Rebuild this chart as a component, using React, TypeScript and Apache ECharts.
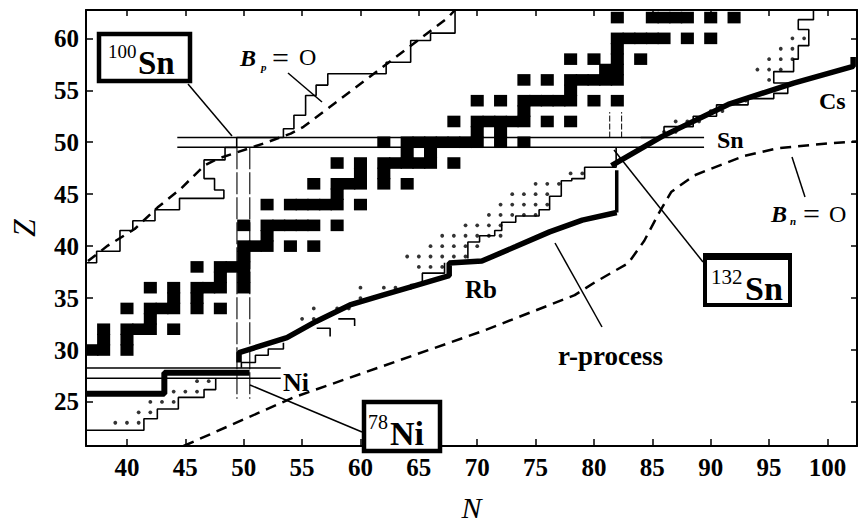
import React, { useEffect, useRef } from "react";
import * as echarts from "echarts";

const N_MIN = 36.49;
const N_MAX = 102.53;
const Z_MIN = 20.76;
const Z_MAX = 62.73;
const nTicks = [40, 45, 50, 55, 60, 65, 70, 75, 80, 85, 90, 95, 100];
const zTicks = [25, 30, 35, 40, 45, 50, 55, 60];

// stable nuclei: proton number and its stable neutron numbers
const stableZ = [28, 29, 30, 31, 32, 33, 34, 35, 36, 37, 38, 39, 40, 41, 42, 44, 45, 46, 47, 48, 49, 50, 51, 52, 53, 54, 55, 56, 57, 58, 59, 60, 62];
const stableN = [
  [36], [36], [36, 37, 38, 40], [38, 40], [38, 40, 41, 42, 44], [42],
  [40, 42, 43, 44, 46, 48], [44, 46], [42, 44, 46, 47, 48, 50], [48, 50],
  [46, 48, 49, 50], [50], [50, 51, 52, 54, 56], [52], [50, 52, 53, 54, 55, 56, 58],
  [52, 54, 55, 56, 57, 58, 60], [58], [56, 58, 59, 60, 62, 64], [60, 62],
  [58, 60, 62, 63, 64, 65, 66, 68], [64, 66], [62, 64, 65, 66, 67, 68, 69, 70, 72, 74],
  [70, 72], [68, 70, 71, 72, 73, 74, 76, 78], [74], [70, 72, 74, 75, 76, 77, 78, 80, 82],
  [78], [74, 76, 78, 79, 80, 81, 82], [81, 82], [78, 80, 82, 84], [82],
  [82, 83, 84, 85, 86, 88, 90], [82, 85, 86, 87, 88, 90, 92],
];

// dotted (newly observed) nuclei: proton number and neutron numbers
const dotZ = [23, 24, 25, 26, 27, 33, 34, 35, 36, 38, 39, 40, 41, 42, 43, 44, 45, 46, 47, 51, 52, 53, 54, 56, 57, 58, 59, 60];
const dotN = [
  [39, 40, 41], [41, 42], [42, 43, 44], [44, 45, 46], [46, 47],
  [55, 56], [56, 58, 59], [60, 61], [60, 62, 63],
  [65, 66, 67], [64, 65, 66, 67, 68, 69], [66, 67, 68, 69, 70], [67, 68, 69, 70, 71, 72],
  [69, 70, 71, 72], [71, 72, 73, 74, 75], [72, 73, 74, 75, 76], [73, 74, 75, 76], [75, 76, 77], [78, 79],
  [86, 87], [87, 88, 89], [90, 91], [93], [95], [94, 95, 96], [95, 96, 97], [96, 97], [97, 98],
];

// limit of known nuclei, proton-rich side
const protonLimit = [
  [36.49, 38.4], [37.4, 38.4], [37.4, 39.5], [39.4, 39.5], [39.4, 41.5], [40.5, 41.5], [40.5, 42.45],
  [42.4, 42.45], [42.4, 43.5], [44.5, 43.5], [44.5, 44.6], [48.3, 44.6], [48.3, 45.4], [47.5, 45.4],
  [47.5, 46.5], [46.6, 46.5], [46.6, 48.3], [48.4, 48.3], [48.4, 49.5], [49.4, 49.5], [49.4, 50.45],
  [53.4, 50.45], [53.4, 51.3], [54.3, 51.3], [54.3, 52.6], [55.3, 52.6], [55.3, 54.5], [56.2, 54.5],
  [56.2, 55.5], [57.2, 55.5], [57.2, 56.6], [62.2, 56.6], [62.2, 57.7], [64.3, 57.7], [64.3, 59.8],
  [66.0, 59.8], [66.0, 60.5], [68.1, 60.5], [68.1, 62.73],
];

// limit of known nuclei, neutron-rich side (pieces)
const neutronLimit = [
  [[36.49, 22.28], [41.45, 22.28], [41.45, 23.38], [42.6, 23.38], [42.6, 24.32], [44.4, 24.32], [44.4, 25.44], [46.6, 25.44], [46.6, 26.19], [47.6, 26.19], [47.6, 27.29]],
  [[49.8, 28.3], [49.8, 28.8], [51.0, 28.8], [51.0, 29.5], [52.1, 29.5], [52.1, 30.1], [53.4, 30.1], [53.4, 30.7]],
  [[56.25, 32.1], [57.4, 32.1], [57.4, 31.3]],
  [[58.1, 33.0], [59.5, 33.0], [59.5, 32.3]],
  [[64.3, 35.8], [64.3, 36.3], [65.3, 36.3], [65.3, 37.4], [67.2, 37.4], [67.2, 38.4]],
  [[69.2, 38.8], [69.2, 40.4], [70.2, 40.4], [70.2, 41.0], [71.5, 41.0], [71.5, 41.5], [72.1, 41.5], [72.1, 42.3], [73.3, 42.3], [73.3, 42.9], [75.3, 42.9], [75.3, 43.5], [76.2, 43.5], [76.2, 44.8], [77.2, 44.8], [77.2, 46.3], [78.1, 46.3], [78.1, 46.5], [79.2, 46.5], [79.2, 47.6], [81.9, 47.6], [81.9, 49.52]],
  [[84.0, 50.45], [86.0, 50.45], [86.0, 51.5], [88.5, 51.5], [88.5, 52.5], [90.5, 52.5], [90.5, 53.6], [93.2, 53.6], [93.2, 54.2], [95.4, 54.2], [95.4, 54.7], [96.6, 54.7], [96.6, 55.7], [95.4, 55.7], [95.4, 56.8], [97.1, 56.8], [97.1, 58.0], [97.5, 58.0], [97.5, 59.3], [98.4, 59.3], [98.4, 60.85], [97.5, 60.85], [97.5, 61.8], [98.8, 61.8], [98.8, 62.73]],
];

// r-process path
const rPathLow = [[36.49, 25.8], [43.2, 25.8], [43.2, 27.8], [50.5, 27.8]];
const rPathMid = [[49.6, 28.8], [49.6, 29.75], [53.7, 31.2], [56.2, 32.75], [59.1, 34.34], [61.9, 35.28], [64.7, 36.2], [67.6, 37.15], [67.6, 38.37], [70.4, 38.56], [73.3, 39.96], [76.2, 41.37], [79.0, 42.5], [81.95, 43.24]];
const rLadder = [[81.95, 43.24], [81.95, 47.3]];
const rPathHigh = [[81.5, 47.74], [85.8, 50.54], [91.5, 53.64], [97.1, 55.7], [102.2, 57.3], [102.2, 58.2]];

// drip lines
const protonDrip = [[36.66, 38.56], [38.36, 40.05], [40.66, 41.65], [42.61, 43.71], [44.66, 45.58], [46.61, 47.74], [47.72, 48.39], [51.72, 49.89], [54.02, 50.83], [55.12, 51.48], [67.46, 61.97], [68.1, 62.73]];
const neutronDrip = [[44.85, 20.76], [54.27, 25.44], [70.44, 31.81], [78.35, 35.28], [80.05, 36.5], [82.95, 38.37], [84.31, 40.52], [85.5, 43.05], [86.61, 45.21], [88.57, 46.8], [90.02, 47.45], [92.83, 48.67], [95.73, 49.42], [99.98, 49.89], [102.53, 50.08]];

// magic number lines
const snLines = [[[44.31, 50.45], [89.43, 50.45]], [[44.31, 49.52], [89.43, 49.52]]];
const niLines = [[[36.49, 28.28], [53.17, 28.28]], [[36.49, 27.29], [53.17, 27.29]]];
const n50Lines = [[[49.42, 49.52], [49.42, 25.3]], [[50.52, 49.52], [50.52, 25.3]]];
const n82Lines = [[[81.35, 50.45], [81.35, 52.9]], [[82.37, 50.45], [82.37, 52.9]]];

const FONT = "'Liberation Serif', 'Times New Roman', serif";

function lineSeries(data: number[][], width: number, extra: any = {}) {
  return {
    type: "line",
    data,
    showSymbol: false,
    symbol: "none",
    silent: true,
    clip: true,
    lineStyle: { color: "#000", width, ...extra },
    z: extra.z ?? 3,
  };
}

function txt(x: number, y: number, text: string, size: number, opts: any = {}) {
  return {
    type: "text",
    x,
    y,
    z: 102,
    style: {
      text,
      fill: "#000",
      fontSize: size,
      fontFamily: FONT,
      fontWeight: opts.weight ?? "normal",
      fontStyle: opts.style ?? "normal",
      align: opts.align ?? "left",
      textAlign: opts.align ?? "left",
      verticalAlign: "middle",
      textVerticalAlign: "middle",
    },
  };
}

function seg(x1: number, y1: number, x2: number, y2: number, w = 1.5) {
  return { type: "line", z: 101, shape: { x1, y1, x2, y2 }, style: { stroke: "#000", lineWidth: w } };
}

export default function App() {
  const ref = useRef<HTMLDivElement>(null);
  useEffect(() => {
    if (!ref.current) return;
    const chart = echarts.init(ref.current, undefined, { renderer: "svg" });

    const squares: number[][] = [];
    stableZ.forEach((z, i) => stableN[i].forEach((n) => squares.push([n, z])));
    const dots: number[][] = [];
    dotZ.forEach((z, i) => dotN[i].forEach((n) => dots.push([n, z])));

    const axisLine = { onZero: false, lineStyle: { color: "#000", width: 2 } };
    const tickStyle = { color: "#000", width: 1.5 };
    const labelStyle = { fontSize: 25, fontWeight: "bold", fontFamily: FONT, color: "#000" };

    const series: any[] = [
      {
        type: "custom",
        coordinateSystem: "cartesian2d",
        clip: true,
        silent: true,
        z: 2,
        data: squares,
        renderItem: (_p: any, api: any) => {
          const n = api.value(0);
          const z = api.value(1);
          const a = api.coord([n - 0.5, z + 0.5]);
          const b = api.coord([n + 0.5, z - 0.5]);
          return {
            type: "rect",
            shape: { x: a[0] - 0.7, y: a[1] - 0.6, width: b[0] - a[0] + 1.4, height: b[1] - a[1] + 1.2 },
            style: { fill: "#000" },
          };
        },
      },
      {
        type: "scatter",
        data: dots,
        symbol: "circle",
        symbolSize: 3.8,
        silent: true,
        itemStyle: { color: "#000" },
        z: 4,
      },
      lineSeries(protonLimit, 1.6),
      ...neutronLimit.map((d) => lineSeries(d, 1.6)),
      ...snLines.map((d) => lineSeries(d, 1.5)),
      ...niLines.map((d) => lineSeries(d, 1.5)),
      ...n50Lines.map((d) => lineSeries(d, 1.1, { type: [22, 3] })),
      ...n82Lines.map((d) => lineSeries(d, 1, { type: [6, 2] })),
      lineSeries(rPathLow, 6, { z: 5 }),
      lineSeries(rPathMid, 5.5, { z: 5 }),
      lineSeries(rLadder, 3.5, { z: 5 }),
      lineSeries(rPathHigh, 5.5, { z: 5 }),
      lineSeries(protonDrip, 2.5, { type: [10, 7] }),
      lineSeries(neutronDrip, 2.5, { type: [11, 7] }),
    ];

    chart.setOption({
      animation: false,
      backgroundColor: "#fff",
      grid: { left: 81, right: 2, top: 10, bottom: 69, containLabel: false },
      xAxis: [
        {
          type: "value",
          min: N_MIN,
          max: N_MAX,
          position: "bottom",
          splitLine: { show: false },
          axisLine,
          axisTick: { inside: true, length: 7, customValues: nTicks, lineStyle: tickStyle },
          axisLabel: { ...labelStyle, customValues: nTicks, margin: 9 },
          name: "N",
          nameLocation: "middle",
          nameGap: 46,
          nameTextStyle: { fontSize: 30, fontStyle: "italic", fontFamily: FONT, color: "#000" },
        },
        {
          type: "value",
          min: N_MIN,
          max: N_MAX,
          position: "top",
          splitLine: { show: false },
          axisLine,
          axisTick: { inside: true, length: 6, customValues: nTicks, lineStyle: tickStyle },
          axisLabel: { show: false },
        },
      ],
      yAxis: [
        {
          type: "value",
          min: Z_MIN,
          max: Z_MAX,
          position: "left",
          splitLine: { show: false },
          axisLine,
          axisTick: { inside: true, length: 7, customValues: zTicks, lineStyle: tickStyle },
          axisLabel: { ...labelStyle, customValues: zTicks, margin: 7 },
          name: "Z",
          nameLocation: "middle",
          nameGap: 46,
          nameRotate: 90,
          nameTextStyle: { fontSize: 32, fontStyle: "italic", fontFamily: FONT, color: "#000" },
        },
        {
          type: "value",
          min: Z_MIN,
          max: Z_MAX,
          position: "right",
          splitLine: { show: false },
          axisLine,
          axisTick: { inside: true, length: 6, customValues: zTicks, lineStyle: tickStyle },
          axisLabel: { show: false },
        },
      ],
      series,
      graphic: [
        // 100Sn box
        seg(188, 84, 232, 136),
        { type: "rect", z: 100, shape: { x: 99, y: 34, width: 91, height: 47 }, style: { fill: "#fff", stroke: "#000", lineWidth: 4.5 } },
        txt(108, 51, "100", 19),
        txt(138, 63, "Sn", 33, { weight: "bold" }),
        // 132Sn box
        seg(703, 262, 614, 150),
        { type: "rect", z: 100, shape: { x: 705, y: 256, width: 85, height: 49 }, style: { fill: "#fff", stroke: "#000", lineWidth: 4 } },
        { type: "rect", z: 100, shape: { x: 703, y: 253, width: 89, height: 7 }, style: { fill: "#000" } },
        txt(711, 277, "132", 21),
        txt(745, 288, "Sn", 34, { weight: "bold" }),
        // 78Ni box
        seg(362, 432, 250, 385),
        { type: "rect", z: 100, shape: { x: 364, y: 402, width: 76, height: 49 }, style: { fill: "#fff", stroke: "#000", lineWidth: 4.5 } },
        txt(368, 422, "78", 20),
        txt(390, 433, "Ni", 34, { weight: "bold" }),
        // Bp = 0
        txt(240, 58, "B", 24, { style: "italic", weight: "bold" }),
        txt(261, 67, "p", 11, { style: "italic", weight: "bold" }),
        txt(272, 57, "=", 30),
        txt(299, 57, "O", 24),
        seg(288, 73, 322, 102),
        // Bn = 0
        txt(771, 214, "B", 24, { style: "italic", weight: "bold" }),
        txt(790, 221, "n", 11, { style: "italic", weight: "bold" }),
        txt(803, 213, "=", 30),
        txt(829, 214, "O", 24),
        seg(792, 157, 805, 197),
        // r-process
        txt(558, 356, "r-process", 27, { weight: "bold" }),
        seg(555, 243, 602, 327),
        // element labels
        txt(465, 289, "Rb", 25, { weight: "bold" }),
        txt(819, 101, "Cs", 24, { weight: "bold" }),
        txt(717, 140, "Sn", 24, { weight: "bold" }),
        txt(283, 382, "Ni", 26, { weight: "bold" }),
      ],
    });
    return () => chart.dispose();
  }, []);
  return <div ref={ref} style={{ position: "absolute", left: 0, top: 0, width: 859, height: 527 }} />;
}
